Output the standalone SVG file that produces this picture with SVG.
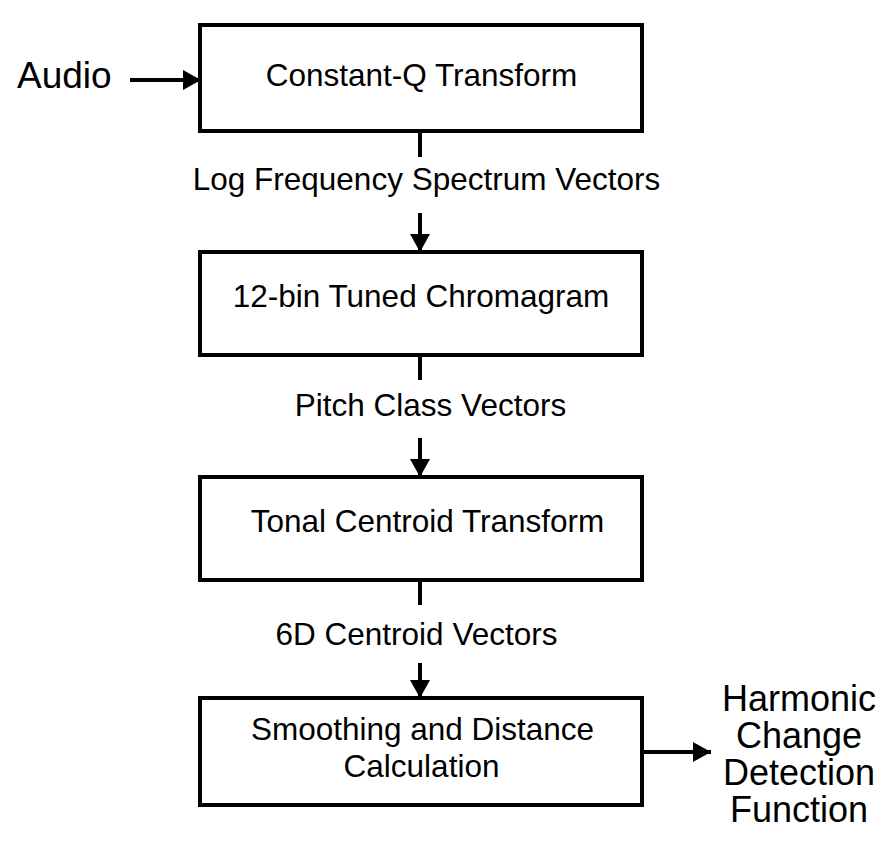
<svg xmlns="http://www.w3.org/2000/svg" width="890" height="860" viewBox="0 0 890 860">
  <style>
    .box { fill: #fff; stroke: #000; stroke-width: 4; }
    .conn { stroke: #000; stroke-width: 4; fill: none; }
    .t { font-family: "Liberation Sans", Arial, sans-serif; font-size: 31.5px; fill: #000; text-anchor: middle; }
    .big { font-family: "Liberation Sans", Arial, sans-serif; font-size: 37px; fill: #000; }
    .out { font-family: "Liberation Sans", Arial, sans-serif; font-size: 36px; fill: #000; text-anchor: middle; }
  </style>
  <defs>
    <marker id="arrow" markerUnits="userSpaceOnUse" markerWidth="18" markerHeight="20" refX="18" refY="10" orient="auto">
      <path d="M0,0 L18,10 L0,20 Z" fill="#000"/>
    </marker>
  </defs>
  <rect width="890" height="860" fill="#fff"/>

  <g id="connectors">
    <line class="conn" x1="130" y1="80" x2="201" y2="80" marker-end="url(#arrow)"/>
    <line class="conn" x1="420" y1="131" x2="420" y2="157"/>
    <line class="conn" x1="420" y1="213" x2="420" y2="252" marker-end="url(#arrow)"/>
    <line class="conn" x1="420" y1="355" x2="420" y2="380"/>
    <line class="conn" x1="420" y1="438" x2="420" y2="477" marker-end="url(#arrow)"/>
    <line class="conn" x1="420" y1="580" x2="420" y2="605"/>
    <line class="conn" x1="420" y1="663" x2="420" y2="698" marker-end="url(#arrow)"/>
    <line class="conn" x1="642" y1="752" x2="711" y2="752" marker-end="url(#arrow)"/>
    <text class="t" x="426.5" y="190">Log Frequency Spectrum Vectors</text>
    <text class="t" x="430.5" y="416">Pitch Class Vectors</text>
    <text class="t" x="416.5" y="645">6D Centroid Vectors</text>
  </g>

  <g id="audio">
    <text class="big" x="17" y="88">Audio</text>
  </g>

  <g id="cqt">
    <rect class="box" x="200" y="25" width="442" height="106"/>
    <text class="t" x="421.5" y="86">Constant-Q Transform</text>
  </g>

  <g id="chromagram">
    <rect class="box" x="200" y="252" width="442" height="103"/>
    <text class="t" x="421" y="307">12-bin Tuned Chromagram</text>
  </g>

  <g id="tonal">
    <rect class="box" x="200" y="477" width="442" height="103"/>
    <text class="t" x="427.5" y="532">Tonal Centroid Transform</text>
  </g>

  <g id="smoothing">
    <rect class="box" x="200" y="698" width="442" height="107"/>
    <text class="t" x="422.5" y="740">Smoothing and Distance</text>
    <text class="t" x="421.5" y="777">Calculation</text>
  </g>

  <g id="hcdf">
    <text class="out" x="799" y="711">Harmonic</text>
    <text class="out" x="799" y="748">Change</text>
    <text class="out" x="799" y="785">Detection</text>
    <text class="out" x="799" y="822">Function</text>
  </g>
</svg>
